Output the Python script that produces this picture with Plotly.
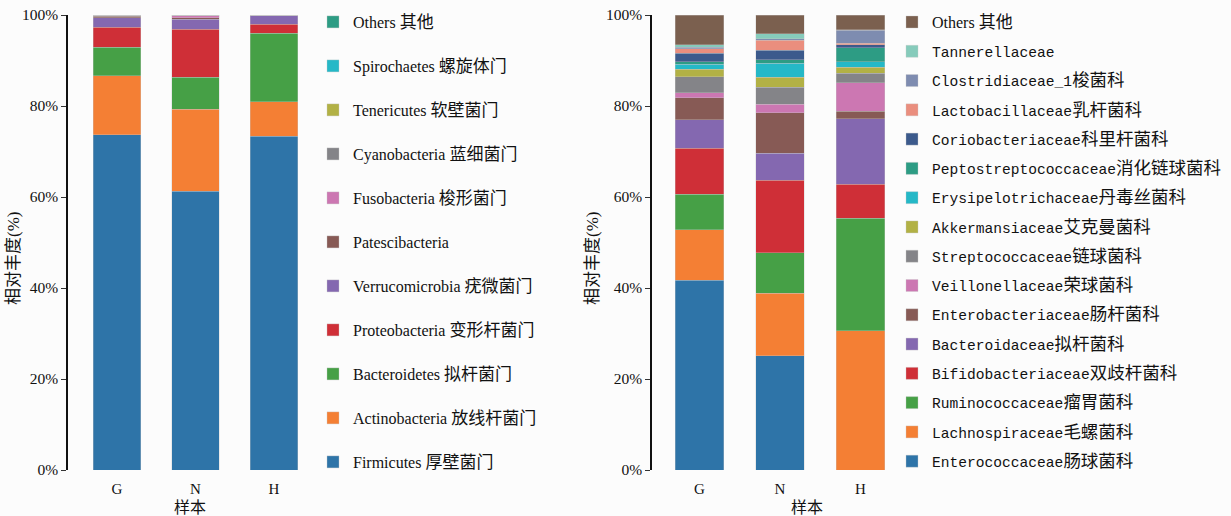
import re
import plotly.graph_objects as go

# Samples
samples = ["G", "N", "H"]

# Phylum-level relative abundance (%), bottom of the stack first
phyla = [
    "Firmicutes 厚壁菌门", "Actinobacteria 放线杆菌门", "Bacteroidetes 拟杆菌门",
    "Proteobacteria 变形杆菌门", "Verrucomicrobia 疣微菌门", "Patescibacteria",
    "Fusobacteria 梭形菌门", "Cyanobacteria 蓝细菌门", "Tenericutes 软壁菌门",
    "Spirochaetes 螺旋体门", "Others 其他",
]
phylum_G = [73.7, 13.0, 6.2, 4.4, 2.1, 0.3, 0.1, 0.1, 0.05, 0.05, 0.0]
phylum_N = [61.3, 18.0, 7.0, 10.6, 2.2, 0.3, 0.4, 0.1, 0.05, 0.05, 0.0]
phylum_H = [73.3, 7.6, 15.1, 2.0, 1.8, 0.1, 0.05, 0.05, 0.0, 0.0, 0.0]
phylum_colors = ["#2e74a8", "#f47f34", "#46a046", "#cf2f37", "#8468b0", "#875a55",
                 "#cc77b2", "#848488", "#b2b145", "#25b8c7", "#2d9c84"]

# Family-level relative abundance (%), bottom of the stack first
families = [
    "Enterococcaceae肠球菌科", "Lachnospiraceae毛螺菌科", "Ruminococcaceae瘤胃菌科",
    "Bifidobacteriaceae双歧杆菌科", "Bacteroidaceae拟杆菌科", "Enterobacteriaceae肠杆菌科",
    "Veillonellaceae荣球菌科", "Streptococcaceae链球菌科", "Akkermansiaceae艾克曼菌科",
    "Erysipelotrichaceae丹毒丝菌科", "Peptostreptococcaceae消化链球菌科",
    "Coriobacteriaceae科里杆菌科", "Lactobacillaceae乳杆菌科", "Clostridiaceae_1梭菌科",
    "Tannerellaceae", "Others 其他",
]
family_G = [41.7, 11.1, 7.8, 10.1, 6.3, 4.8, 1.1, 3.5, 1.7, 1.1, 0.5, 1.9, 1.0, 0.3, 0.6, 6.5]
family_N = [25.1, 13.7, 9.0, 15.9, 5.9, 8.9, 1.9, 3.7, 2.2, 3.1, 0.8, 2.0, 2.3, 0.3, 1.1, 4.1]
family_H = [0.0, 30.6, 24.7, 7.5, 14.4, 1.7, 6.2, 2.1, 1.3, 1.2, 3.1, 0.7, 0.3, 2.8, 0.2, 3.2]
family_colors = ["#2e74a8", "#f47f34", "#46a046", "#cf2f37", "#8468b0", "#875a55",
                 "#cc77b2", "#848488", "#b2b145", "#25b8c7", "#2d9c84", "#3c5a8c",
                 "#ea8e7e", "#7e8cb0", "#86cbbb", "#7b604f"]

W, H = 1231, 516
SERIF = "Liberation Serif, Times New Roman, Noto Sans CJK SC"
MONO = "Liberation Mono, Courier New, Noto Sans CJK SC"
CJK = re.compile(r"([\u4e00-\u9fff]+)")
INK = "#111"


def legend_label(text, cjk_size, family=None, size=None):
    """Set Chinese runs a little larger than the Latin text of a legend entry."""
    out = CJK.sub(lambda m: f'<span style="font-size:{cjk_size}px">{m.group(1)}</span>', text)
    if family:
        style = f"font-family:{family}" + (f";font-size:{size}px" if size else "")
        out = f'<span style="{style}">{out}</span>'
    return out


fig = go.Figure()

n_p = len(phyla)
for i, name in enumerate(phyla):
    fig.add_trace(go.Bar(
        x=samples, y=[phylum_G[i], phylum_N[i], phylum_H[i]], name=legend_label(name, 17),
        marker=dict(color=phylum_colors[i], line=dict(color="rgba(200,200,200,0.7)", width=0.5)),
        width=0.6, xaxis="x", yaxis="y", legend="legend",
        legendgroup=f"p{i}", legendrank=n_p - i,
    ))

n_f = len(families)
for i, name in enumerate(families):
    if name.startswith("Others"):
        label = legend_label(name, 17, SERIF, 16)
    else:
        label = legend_label(name, 17.5)
    fig.add_trace(go.Bar(
        x=samples, y=[family_G[i], family_N[i], family_H[i]], name=label,
        marker=dict(color=family_colors[i], line=dict(color="rgba(200,200,200,0.7)", width=0.5)),
        width=0.6, xaxis="x2", yaxis="y2", legend="legend2",
        legendgroup=f"f{i}", legendrank=n_f - i,
    ))

y0, y1 = (H - 470) / H, (H - 15) / H


def yax(anchor):
    return dict(
        domain=[y0, y1], range=[0, 100], anchor=anchor, automargin=False,
        tickvals=[0, 20, 40, 60, 80, 100], ticktext=["0%", "20%", "40%", "60%", "80%", "100%"],
        ticks="outside", ticklen=5, tickwidth=1.2, tickcolor="#333",
        showline=True, linecolor=INK, linewidth=1.6, showgrid=False, zeroline=False,
        tickfont=dict(family=SERIF, size=15.5, color=INK),
    )


def xax(anchor, left_px, right_px, center_px, step_px):
    return dict(
        domain=[left_px / W, right_px / W], anchor=anchor, automargin=False,
        range=[(left_px - center_px) / step_px, (right_px - center_px) / step_px],
        showline=False, showgrid=False, zeroline=False, ticks="",
        tickfont=dict(family=SERIF, size=15, color=INK), ticklabelstandoff=8,
        title=dict(text="样本", font=dict(family=SERIF, size=16, color=INK), standoff=6),
    )


# vertical axis titles, placed in pixel terms
ytitles = [
    dict(text="相对丰度(%)", x=13 / W, y=1 - 259 / H),
    dict(text="相对丰度(%)", x=592 / W, y=1 - 259 / H),
]
annotations = [
    dict(text=t["text"], x=t["x"], y=t["y"], xref="paper", yref="paper",
         xanchor="center", yanchor="middle", textangle=-90, showarrow=False,
         font=dict(family=SERIF, size=17, color=INK))
    for t in ytitles
]

fig.update_layout(
    width=W, height=H,
    margin=dict(l=0, r=0, t=0, b=0),
    paper_bgcolor="#fcfcfc", plot_bgcolor="rgba(0,0,0,0)",
    barmode="stack", bargap=0.4,
    xaxis=xax("y", 68, 312, 117, 78.5),
    yaxis=yax("x"),
    xaxis2=xax("y2", 652, 962, 699.5, 80.5),
    yaxis2=yax("x2"),
    annotations=annotations,
    legend=dict(
        x=313 / W, y=1 - 5 / H, xanchor="left", yanchor="top",
        traceorder="grouped", tracegroupgap=20.2,
        font=dict(family=SERIF, size=16, color=INK), bgcolor="rgba(0,0,0,0)",
    ),
    legend2=dict(
        x=892 / W, y=1 - 6 / H, xanchor="left", yanchor="top",
        traceorder="grouped", tracegroupgap=7.3,
        font=dict(family=MONO, size=14.6, color=INK), bgcolor="rgba(0,0,0,0)",
    ),
    showlegend=True,
)

fig.write_html("out.html")
